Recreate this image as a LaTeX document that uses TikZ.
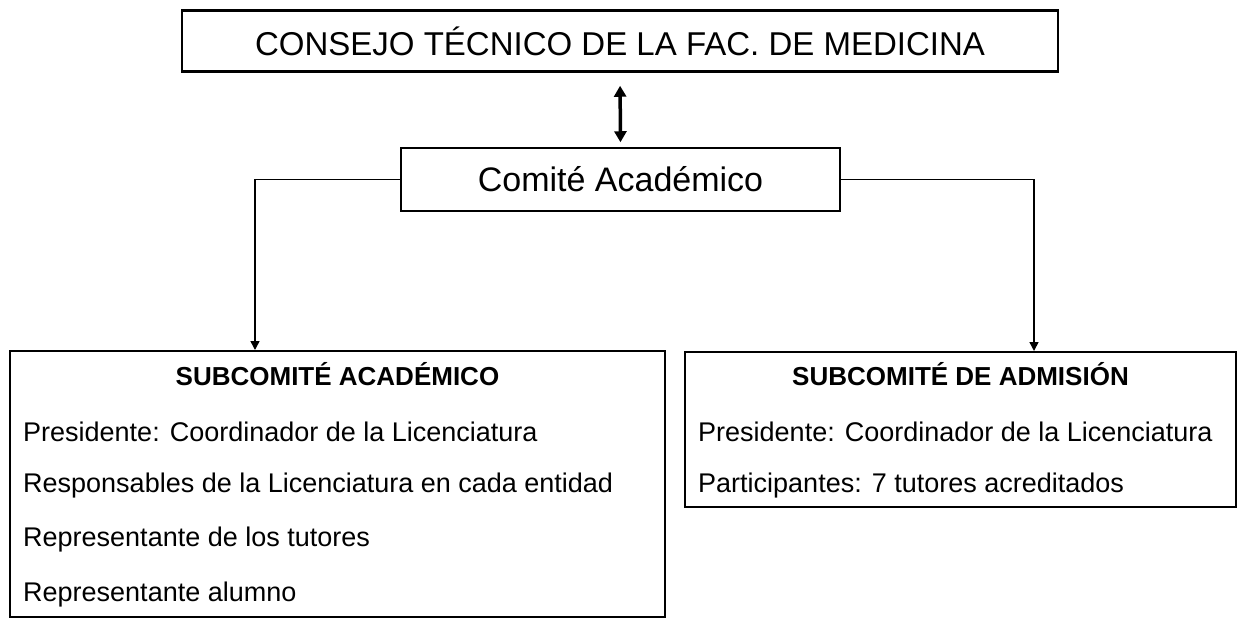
\documentclass[tikz,border=0pt]{standalone}
\usepackage{fontspec}
\setmainfont{Liberation Sans}
\usetikzlibrary{arrows.meta, positioning}
\tikzstyle{council} = [rectangle, draw=black, line width=2.5pt, minimum width=876pt, minimum height=61pt, inner sep=0pt, font=\fontsize{33}{38}\selectfont]
\tikzstyle{committee} = [rectangle, draw=black, line width=1.5pt, minimum width=439pt, minimum height=63pt, inner sep=0pt, font=\fontsize{34}{38}\selectfont]
\tikzstyle{subcommittee} = [rectangle, draw=black, line width=2pt, inner sep=0pt]
\tikzstyle{subtitle} = [font=\bfseries\fontsize{26}{30}\selectfont, inner sep=0pt, anchor=base]
\tikzstyle{member} = [font=\fontsize{27}{32}\selectfont, inner sep=0pt, anchor=base west]
\tikzstyle{link} = [line width=1.5pt, -{Triangle[width=9pt,length=9pt]}]
\tikzstyle{report} = [line width=3.5pt, {Triangle[width=12pt,length=11pt]}-{Triangle[width=12pt,length=11pt]}]

\begin{document}
\begin{tikzpicture}[x=1pt, y=-1pt]

    \useasboundingbox (0,0) rectangle (1244,619);

    \node (consejo) [council] at (620,41) {CONSEJO TÉCNICO DE LA FAC. DE MEDICINA};
    \node (comite) [committee] at (620.5,179.5) {Comité Académico};

    \node (subacad) [subcommittee, minimum width=655pt, minimum height=266pt] at (337.5,484) {};
    \node (subadm) [subcommittee, minimum width=551pt, minimum height=155pt] at (960.5,429.5) {};

    % left box
    \node (acadtitle) [subtitle] at ([yshift=-35pt]subacad.north) {SUBCOMITÉ ACADÉMICO};
    \node (acad1) [member] at ([xshift=14pt, yshift=-91pt]subacad.north west) {Presidente: Coordinador de la Licenciatura};
    \node (acad2) [member] at ([xshift=14pt, yshift=-142pt]subacad.north west) {Responsables de la Licenciatura en cada entidad};
    \node (acad3) [member] at ([xshift=14pt, yshift=-196pt]subacad.north west) {Representante de los tutores};
    \node (acad4) [member] at ([xshift=14pt, yshift=-251pt]subacad.north west) {Representante alumno};

    % right box
    \node (admtitle) [subtitle] at ([yshift=-34pt]subadm.north) {SUBCOMITÉ DE ADMISIÓN};
    \node (adm1) [member] at ([xshift=14pt, yshift=-90pt]subadm.north west) {Presidente: Coordinador de la Licenciatura};
    \node (adm2) [member] at ([xshift=14pt, yshift=-141pt]subadm.north west) {Participantes: 7 tutores acreditados};

    \draw [report, shorten <=13pt, shorten >=5pt] (consejo.south) -- (comite.north);
    \draw [link] (comite.west) -| ([xshift=-82.5pt]subacad.north);
    \draw [link] (comite.east) -| ([xshift=73.5pt]subadm.north);

\end{tikzpicture}
\end{document}
